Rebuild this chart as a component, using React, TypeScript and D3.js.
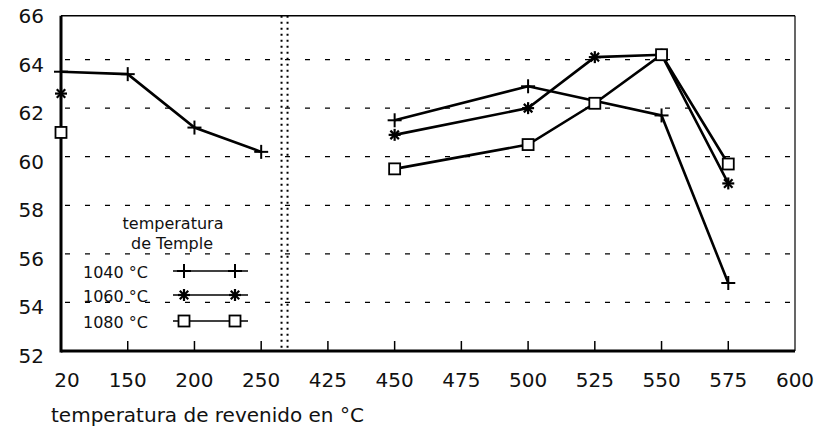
import React from "react";
import * as d3 from "d3";

// temperatura de revenido (eje x, categorías)
const xLabels = ["20", "150", "200", "250", "425", "450", "475", "500", "525", "550", "575", "600"];
const yTicks = [52, 54, 56, 58, 60, 62, 64, 66];
const gridValues = [54, 56, 58, 60, 62, 64];

// dureza por temperatura de temple (null = sin dato)
const s1040 = [63.5, 63.4, 61.2, 60.2, null, 61.5, null, 62.9, null, 61.7, 54.8, null];
const s1060 = [62.6, null, null, null, null, 60.9, null, 62.0, 64.1, 64.2, 58.9, null];
const s1080 = [61.0, null, null, null, null, 59.5, null, 60.5, 62.2, 64.2, 59.7, null];

const series = [
  { name: "1040 °C", values: s1040, marker: "plus" },
  { name: "1060 °C", values: s1060, marker: "star" },
  { name: "1080 °C", values: s1080, marker: "square" },
];

// tramos a cada lado del corte del eje
const sections = [
  [0, 4],
  [4, 12],
];

const W = 819;
const H = 428;
const left = 61;
const right = 795;
const bottom = 351;

function Marker({ type, x, y }: { type: string; x: number; y: number }) {
  if (type === "plus") {
    return (
      <g stroke="#000" strokeWidth={2}>
        <line x1={x - 7} x2={x + 7} y1={y} y2={y} />
        <line x1={x} x2={x} y1={y - 7} y2={y + 7} />
      </g>
    );
  }
  if (type === "star") {
    const r = 6;
    return (
      <g stroke="#000" strokeWidth={2.2}>
        {[0, 45, 90, 135].map((a) => {
          const rad = (a * Math.PI) / 180;
          return (
            <line
              key={a}
              x1={x - r * Math.cos(rad)}
              x2={x + r * Math.cos(rad)}
              y1={y - r * Math.sin(rad)}
              y2={y + r * Math.sin(rad)}
            />
          );
        })}
      </g>
    );
  }
  return <rect x={x - 5.5} y={y - 5.5} width={11} height={11} fill="#fff" stroke="#000" strokeWidth={1.8} />;
}

export default function App() {
  const x = d3.scalePoint<string>().domain(xLabels).range([left, right]);
  const y = d3.scaleLinear().domain([52, 66]).range([bottom, 11]);
  const top = y(65.8);

  const line = d3
    .line<[string, number]>()
    .x((d) => x(d[0]) as number)
    .y((d) => y(d[1]));

  const pathFor = (values: (number | null)[]) =>
    sections
      .map(([a, b]) => {
        const pts: [string, number][] = [];
        for (let i = a; i < b; i++) if (values[i] != null) pts.push([xLabels[i], values[i] as number]);
        return pts.length > 1 ? line(pts) : "";
      })
      .join("");

  const breakX = (x("250") as number) + ((x("425") as number) - (x("250") as number)) * 0.35;

  const legendX1 = 173;
  const legendX2 = 248;
  const legendY = [271, 295, 321];

  return (
    <svg width={W} height={H} style={{ position: "absolute", left: 0, top: 0, background: "#fff" }} fontFamily="DejaVu Sans">
      {/* rejilla */}
      {gridValues.map((v) => (
        <line key={v} x1={left + 4} x2={right} y1={y(v)} y2={y(v)} stroke="#000" strokeWidth={1.3} strokeDasharray="5,15" />
      ))}

      {/* corte del eje */}
      {[breakX - 3, breakX + 3].map((bx, i) => (
        <line key={i} x1={bx} x2={bx} y1={top} y2={bottom} stroke="#000" strokeWidth={2} strokeDasharray="2,4" />
      ))}

      {/* marco */}
      <line x1={left} x2={right} y1={top} y2={top} stroke="#000" strokeWidth={1.5} />
      <line x1={right} x2={right} y1={top} y2={bottom} stroke="#000" strokeWidth={1.2} />
      <line x1={left} x2={left} y1={top} y2={bottom + 1.5} stroke="#000" strokeWidth={3} />
      <line x1={left} x2={right} y1={bottom} y2={bottom} stroke="#000" strokeWidth={3} />

      {/* marcas eje x */}
      {xLabels.slice(1, -1).map((l) => (
        <line key={l} x1={x(l)} x2={x(l)} y1={bottom} y2={bottom - 10} stroke="#000" strokeWidth={1.5} />
      ))}
      {xLabels.map((l, i) => (
        <text
          key={l}
          x={(x(l) as number) + (i === 0 ? 6 : 0)}
          y={380}
          fontSize={20}
          textAnchor="middle"
          dominantBaseline="central"
          fill="#111"
        >
          {l}
        </text>
      ))}

      {yTicks.map((v) => (
        <text key={v} x={44} y={y(v) + 5} fontSize={20} textAnchor="end" dominantBaseline="central" fill="#111">
          {v}
        </text>
      ))}

      <text x={51} y={415} fontSize={20} dominantBaseline="central" fill="#111">
        temperatura de revenido en °C
      </text>

      {/* series */}
      {series.map((s) => (
        <g key={s.name}>
          <path d={pathFor(s.values)} fill="none" stroke="#000" strokeWidth={2.6} />
          {s.values.map((v, i) =>
            v == null ? null : <Marker key={i} type={s.marker} x={x(xLabels[i]) as number} y={y(v)} />
          )}
        </g>
      ))}

      {/* leyenda */}
      <text x={173} y={223} fontSize={16} textAnchor="middle" dominantBaseline="central" fill="#111">
        temperatura
      </text>
      <text x={172} y={243} fontSize={16} textAnchor="middle" dominantBaseline="central" fill="#111">
        de Temple
      </text>
      {series.map((s, i) => (
        <g key={s.name}>
          <text x={83} y={legendY[i] + 1} fontSize={16} dominantBaseline="central" fill="#111">
            {s.name}
          </text>
          <line x1={legendX1} x2={legendX2} y1={legendY[i]} y2={legendY[i]} stroke="#000" strokeWidth={1.6} />
          <Marker type={s.marker} x={184} y={legendY[i]} />
          <Marker type={s.marker} x={235} y={legendY[i]} />
        </g>
      ))}
    </svg>
  );
}
